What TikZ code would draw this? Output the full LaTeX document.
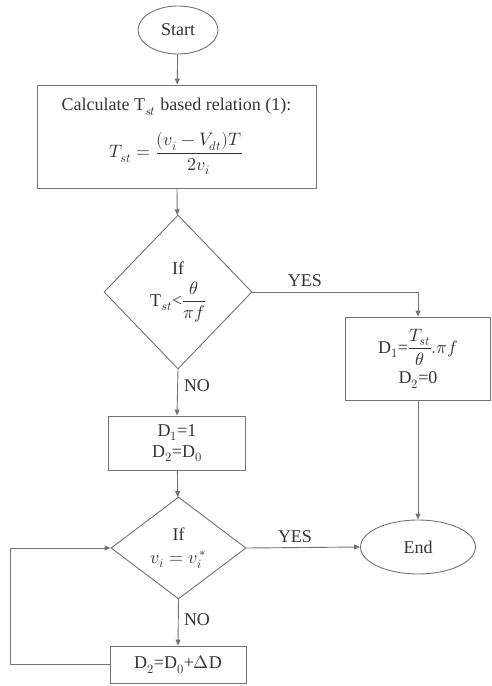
\documentclass[tikz,border=0pt]{standalone}
\usepackage{fontspec}
\setmainfont{Liberation Serif}
\usepackage{unicode-math}
\setmathfont{Latin Modern Math}
\usetikzlibrary{shapes.geometric, arrows.meta}

\begin{document}
\begin{tikzpicture}[x=1pt, y=-1pt, draw=black!55, line width=0.9pt,
    every node/.style={align=center, text=black!80, font=\fontsize{18}{21}\selectfont},
    box/.style={draw, rectangle, inner sep=0pt},
    term/.style={draw, ellipse, inner sep=0pt},
    test/.style={draw, diamond, inner sep=0pt},
    flow/.style={-{Triangle[length=6pt, width=5pt]}}]

\useasboundingbox (0,0) rectangle (491,686);

% nodes ---
\node [term, minimum width=80pt, minimum height=48pt] (start) at (178,30) {Start};
\node [box, minimum width=279pt, minimum height=103pt] (calc) at (176.5,136.5)
    {Calculate T$_{st}$ based relation (1):\\[16pt]
     $T_{st}=\dfrac{(v_i-V_{dt})T}{2v_i}$};
\node [test, minimum width=148pt, minimum height=154pt] (ifst) at (178,292)
    {If\\[6pt] T$_{st}$<$\dfrac{\theta}{\pi f}$};
\node [box, minimum width=145pt, minimum height=83pt] (dyes) at (418,358.5)
    {D$_1$=$\dfrac{T_{st}}{\theta}.\pi f$\\[5pt] D$_2$=0};
\node [box, minimum width=137pt, minimum height=54pt] (dno) at (177,443)
    {D$_1$=1\\ D$_2$=D$_0$};
\node [test, minimum width=135pt, minimum height=102pt] (ifv) at (178.5,548)
    {If\\[2pt] $v_i=v_i^{\,*}$};
\node [term, minimum width=115pt, minimum height=54pt] (end) at (418,547) {End};
\node [box, minimum width=136pt, minimum height=37pt] (dinc) at (178,664.5)
    {D$_2$=D$_0$+$\Delta$D};

\coordinate (lowleft) at (10,664.5);
\coordinate (upleft) at (10,548);

% labels ---
\node (yes1) at (305,281) {YES};
\node (no1) at (197,386) {NO};
\node (yes2) at (295,537) {YES};
\node (no2) at (197,620) {NO};

% connectors ---
\draw [flow] (start) -- (calc);
\draw [flow] (calc) -- (ifst);
\draw [flow] (ifst.east) -| (dyes.north);
\draw [flow] (ifst.south) -- (dno.north);
\draw [flow] (dyes.south) -- (end.north);
\draw [flow] (dno) -- (ifv);
\draw [flow] (ifv.east) -- (end.west);
\draw [flow] (ifv.south) -- (dinc.north);
\draw [flow] (dinc.west) -- (lowleft) -- (upleft) -- (ifv.west);

\end{tikzpicture}
\end{document}
